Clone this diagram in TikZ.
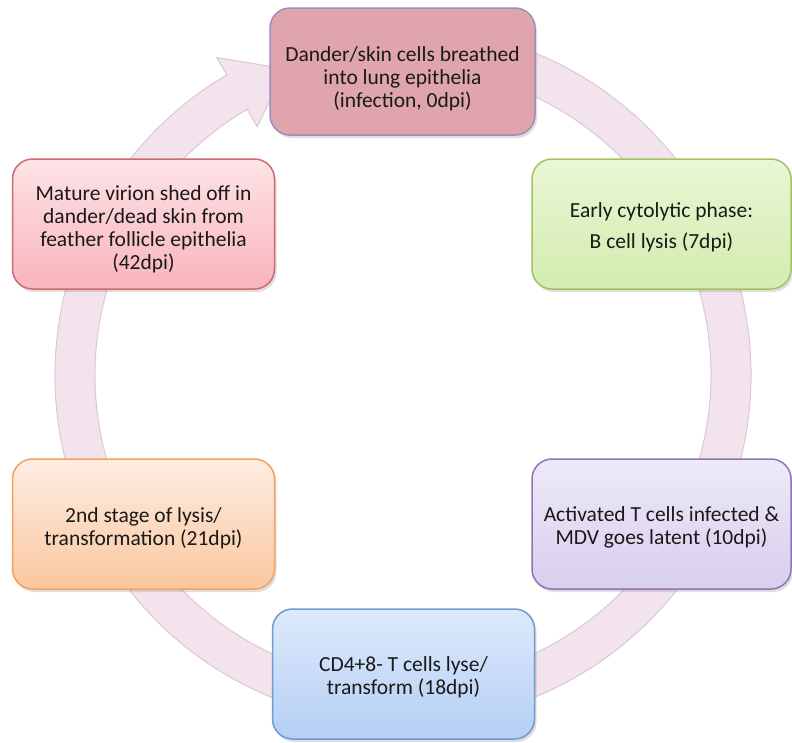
\documentclass[tikz,border=0pt]{standalone}
\usepackage{fontspec}
\setmainfont{Carlito}
\usetikzlibrary{shadows}
\definecolor{ringfill}{HTML}{F3E3EC}
\definecolor{ringedge}{HTML}{DCC8D3}
\definecolor{topfill}{HTML}{E0A5AC}
\definecolor{topedge}{HTML}{9C8CC0}
\definecolor{grnA}{HTML}{EAF6D6}
\definecolor{grnB}{HTML}{D3ECAE}
\definecolor{grnE}{HTML}{A3C263}
\definecolor{purA}{HTML}{EEEAF8}
\definecolor{purB}{HTML}{D8CEEE}
\definecolor{purE}{HTML}{8F75B3}
\definecolor{bluA}{HTML}{DDE9FB}
\definecolor{bluB}{HTML}{B5CFF5}
\definecolor{bluE}{HTML}{6F9BD0}
\definecolor{orgA}{HTML}{FEEDE3}
\definecolor{orgB}{HTML}{FBC79E}
\definecolor{orgE}{HTML}{F5A05C}
\definecolor{redA}{HTML}{FDE3E6}
\definecolor{redB}{HTML}{F9B4BC}
\definecolor{redE}{HTML}{CB6B73}
\tikzset{
  stagebox/.style={rounded corners=20pt, minimum width=262pt, minimum height=130pt,
    line width=1.5pt,
    drop shadow={opacity=0.25, shadow xshift=2pt, shadow yshift=-3pt}},
  stagetext/.style={align=center, text=black!90, inner sep=0pt,
    font=\fontsize{21.5}{23}\selectfont},
  ringstyle/.style={fill=ringfill, draw=ringedge, line width=1pt}
}
\begin{document}
\begin{tikzpicture}[x=1pt,y=-1pt]
\useasboundingbox (0,0) rectangle (792,742);
\fill[white] (0,0) rectangle (792,742);
\begin{scope}[shift={(403,375)}]
\path[ringstyle] (-80:348) arc[start angle=-80,end angle=239.6,radius=348]
  -- (239.6:368) -- (249:328) -- (239.6:288) -- (239.6:308)
  arc[start angle=239.6,end angle=-80,radius=308] -- cycle;
\end{scope}
\node[stagebox, minimum height=127pt, minimum width=265pt, fill=topfill, draw=topedge] (s0) at (402.5,71.5) {};
\node[stagebox, minimum width=259pt, top color=grnA, bottom color=grnB, draw=grnE] (s1) at (661.5,224) {};
\node[stagebox, minimum width=259pt, top color=purA, bottom color=purB, draw=purE] (s2) at (661.5,524) {};
\node[stagebox, top color=bluA, bottom color=bluB, draw=bluE] (s3) at (403.5,674) {};
\node[stagebox, top color=orgA, bottom color=orgB, draw=orgE] (s4) at (143.5,524) {};
\node[stagebox, top color=redA, bottom color=redB, draw=redE] (s5) at (143.5,224) {};
\node[stagetext] (t0) at ([yshift=-7pt]s0.center)
  {Dander/skin cells breathed\\into lung epithelia\\(infection, 0dpi)};
\node[stagetext] (t1) at ([yshift=-3pt]s1.center)
  {Early cytolytic phase:\\[8pt]B cell lysis (7dpi)};
\node[stagetext] (t2) at ([yshift=-3.5pt]s2.center)
  {Activated T cells infected \&\\MDV goes latent (10dpi)};
\node[stagetext] (t3) at ([yshift=-3.5pt]s3.center)
  {CD4+8- T cells lyse/\\transform (18dpi)};
\node[stagetext] (t4) at ([yshift=-4.5pt]s4.center)
  {2nd stage of lysis/\\transformation (21dpi)};
\node[stagetext] (t5) at ([yshift=-5pt]s5.center)
  {Mature virion shed off in\\dander/dead skin from\\feather follicle epithelia\\(42dpi)};
\end{tikzpicture}
\end{document}
